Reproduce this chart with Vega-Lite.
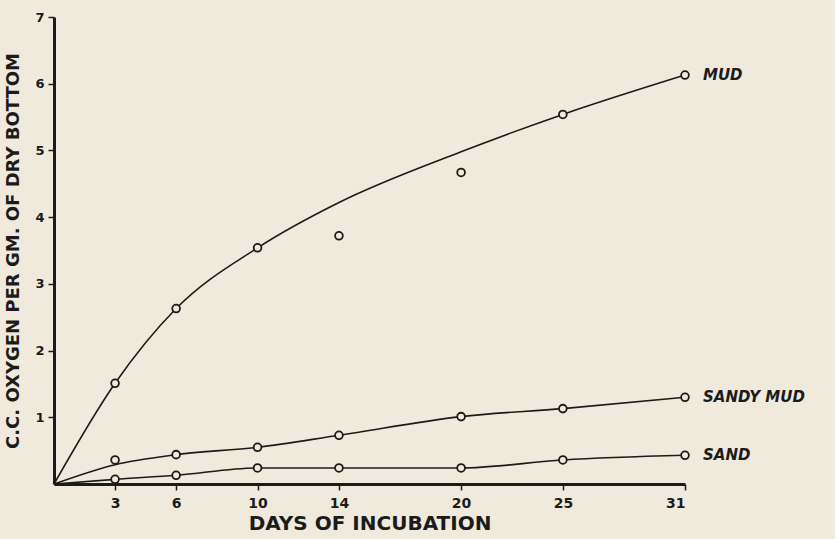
{
  "$schema": "https://vega.github.io/schema/vega-lite/v6.json",
  "width": 631,
  "height": 467,
  "autosize": "none",
  "padding": {"left": 54, "top": 17, "right": 150, "bottom": 55},
  "background": "#efeadc",
  "config": {
    "view": {"stroke": null},
    "font": "DejaVu Sans",
    "axis": {
      "grid": false,
      "domainColor": "#1b1b1b",
      "tickColor": "#1b1b1b",
      "labelColor": "#1b1b1b",
      "titleColor": "#1b1b1b",
      "labelFont": "DejaVu Sans",
      "titleFont": "DejaVu Sans",
      "labelFontWeight": "bold",
      "titleFontWeight": "bold"
    }
  },
  "datasets": {
    "obs": [
      {"soil": "MUD", "day": 3, "value": 1.51},
      {"soil": "MUD", "day": 6, "value": 2.63},
      {"soil": "MUD", "day": 10, "value": 3.54},
      {"soil": "MUD", "day": 14, "value": 3.72},
      {"soil": "MUD", "day": 20, "value": 4.67},
      {"soil": "MUD", "day": 25, "value": 5.54},
      {"soil": "MUD", "day": 31, "value": 6.13},
      {"soil": "SANDY MUD", "day": 3, "value": 0.36},
      {"soil": "SANDY MUD", "day": 6, "value": 0.44},
      {"soil": "SANDY MUD", "day": 10, "value": 0.55},
      {"soil": "SANDY MUD", "day": 14, "value": 0.73},
      {"soil": "SANDY MUD", "day": 20, "value": 1.01},
      {"soil": "SANDY MUD", "day": 25, "value": 1.13},
      {"soil": "SANDY MUD", "day": 31, "value": 1.3},
      {"soil": "SAND", "day": 3, "value": 0.07},
      {"soil": "SAND", "day": 6, "value": 0.13},
      {"soil": "SAND", "day": 10, "value": 0.24},
      {"soil": "SAND", "day": 14, "value": 0.24},
      {"soil": "SAND", "day": 20, "value": 0.24},
      {"soil": "SAND", "day": 25, "value": 0.36},
      {"soil": "SAND", "day": 31, "value": 0.43}
    ],
    "curve": [
      {"soil": "MUD", "day": 0, "value": 0},
      {"soil": "MUD", "day": 3, "value": 1.51},
      {"soil": "MUD", "day": 6, "value": 2.63},
      {"soil": "MUD", "day": 10, "value": 3.54},
      {"soil": "MUD", "day": 14, "value": 4.22},
      {"soil": "MUD", "day": 20, "value": 4.98},
      {"soil": "MUD", "day": 25, "value": 5.54},
      {"soil": "MUD", "day": 31, "value": 6.13},
      {"soil": "SANDY MUD", "day": 0, "value": 0},
      {"soil": "SANDY MUD", "day": 3, "value": 0.29},
      {"soil": "SANDY MUD", "day": 6, "value": 0.44},
      {"soil": "SANDY MUD", "day": 10, "value": 0.55},
      {"soil": "SANDY MUD", "day": 14, "value": 0.73},
      {"soil": "SANDY MUD", "day": 20, "value": 1.01},
      {"soil": "SANDY MUD", "day": 25, "value": 1.13},
      {"soil": "SANDY MUD", "day": 31, "value": 1.3},
      {"soil": "SAND", "day": 0, "value": 0},
      {"soil": "SAND", "day": 3, "value": 0.07},
      {"soil": "SAND", "day": 6, "value": 0.13},
      {"soil": "SAND", "day": 10, "value": 0.24},
      {"soil": "SAND", "day": 14, "value": 0.24},
      {"soil": "SAND", "day": 20, "value": 0.24},
      {"soil": "SAND", "day": 25, "value": 0.36},
      {"soil": "SAND", "day": 31, "value": 0.43}
    ]
  },
  "encoding": {
    "x": {
      "field": "day",
      "type": "quantitative",
      "scale": {"domain": [0, 31], "nice": false, "zero": true},
      "axis": {
        "values": [3, 6, 10, 14, 20, 25, 31],
        "title": "DAYS OF INCUBATION",
        "titleFontSize": 20,
        "titlePadding": 3,
        "labelFontSize": 14,
        "labelPadding": 6,
        "domainWidth": 3,
        "tickWidth": 1.5,
        "tickSize": 6
      }
    },
    "y": {
      "field": "value",
      "type": "quantitative",
      "scale": {"domain": [0, 7], "nice": false},
      "axis": {
        "values": [1, 2, 3, 4, 5, 6, 7],
        "title": "C.C. OXYGEN PER GM. OF DRY BOTTOM",
        "titleFontSize": 18,
        "titlePadding": 12,
        "labelFontSize": 13,
        "labelPadding": 4,
        "domainWidth": 3,
        "tickWidth": 1.5,
        "tickSize": 6
      }
    }
  },
  "layer": [
    {
      "data": {"name": "curve"},
      "mark": {"type": "line", "interpolate": "monotone", "color": "#1b1b1b", "strokeWidth": 1.6},
      "encoding": {"detail": {"field": "soil"}}
    },
    {
      "data": {"name": "obs"},
      "mark": {"type": "point", "shape": "circle", "filled": true, "fill": "#efeadc", "stroke": "#1b1b1b", "strokeWidth": 1.8, "size": 60, "opacity": 1}
    },
    {
      "data": {"name": "obs"},
      "transform": [{"filter": "datum.day == 31"}],
      "mark": {"type": "text", "align": "left", "baseline": "middle", "dx": 18, "fontSize": 15, "fontWeight": "bold", "fontStyle": "italic", "color": "#1b1b1b", "font": "DejaVu Sans"},
      "encoding": {"text": {"field": "soil"}}
    }
  ]
}
